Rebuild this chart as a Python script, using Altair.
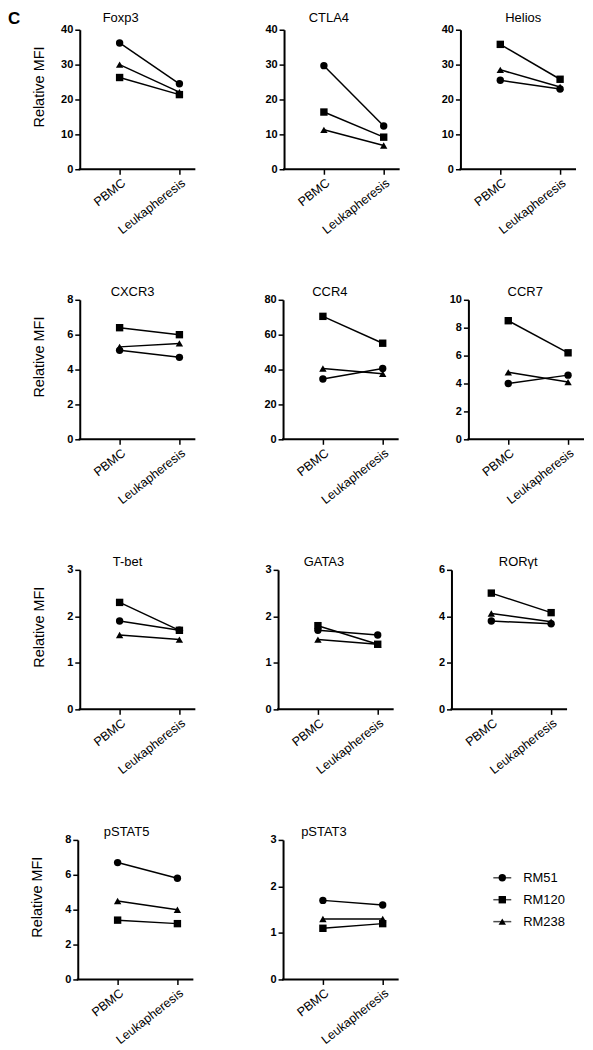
import altair as alt
import pandas as pd

conditions = ["PBMC", "Leukapheresis"]
animals = ["RM51", "RM120", "RM238"]
shapes = ["circle", "square", "triangle-up"]

markers = ["Foxp3", "CTLA4", "Helios", "CXCR3", "CCR4", "CCR7",
           "T-bet", "GATA3", "RORγt", "pSTAT5", "pSTAT3"]

rm51_pbmc = [36.2, 29.7, 25.5, 5.1, 34.6, 4.0, 1.9, 1.7, 3.8, 6.7, 1.7]
rm51_leuk = [24.5, 12.4, 23.0, 4.7, 40.6, 4.6, 1.7, 1.6, 3.68, 5.8, 1.6]
rm120_pbmc = [26.3, 16.4, 35.8, 6.4, 70.5, 8.5, 2.3, 1.8, 5.0, 3.4, 1.1]
rm120_leuk = [21.4, 9.2, 25.8, 6.0, 55.1, 6.2, 1.7, 1.4, 4.16, 3.2, 1.2]
rm238_pbmc = [30.0, 11.3, 28.5, 5.3, 40.6, 4.8, 1.6, 1.5, 4.12, 4.5, 1.3]
rm238_leuk = [22.1, 6.8, 23.6, 5.5, 37.6, 4.1, 1.5, 1.4, 3.77, 4.0, 1.3]

y_max = [40, 40, 40, 8, 80, 10, 3, 3, 6, 8, 3]
y_step = [10, 10, 10, 2, 20, 2, 1, 1, 2, 2, 1]

# layout / style
col_width = [199, 174, 132]
axis_shift = [0, 6, 9, 0, 5, 17, 0, 0, 0, -2, 5]
title_center = [41, 45, 63, 53, 47, 57, 48, 46, 67, 49, 41]
PLOT_W = 115
H = 140
FONT = "Liberation Sans"
LEG_X0 = 216  # legend position inside the last panel

series = {
    "RM51": (rm51_pbmc, rm51_leuk),
    "RM120": (rm120_pbmc, rm120_leuk),
    "RM238": (rm238_pbmc, rm238_leuk),
}

shape_enc = alt.Shape("animal:N", scale=alt.Scale(domain=animals, range=shapes), legend=None)


def legend_layers():
    leg_df = pd.DataFrame({"animal": animals})
    ly = alt.Y("animal:N", sort=animals, axis=None,
               scale=alt.Scale(type="point", domain=animals, range=[38, 82], padding=0))
    leg_line = alt.Chart(leg_df).mark_tick(color="black", thickness=1.5, size=18,
                                           orient="horizontal").encode(x=alt.value(LEG_X0 + 9), y=ly)
    leg_pts = alt.Chart(leg_df).mark_point(filled=True, size=55, color="black", opacity=1).encode(
        x=alt.value(LEG_X0 + 9), y=ly, shape=shape_enc)
    leg_txt = alt.Chart(leg_df).mark_text(align="left", baseline="middle", fontSize=13, font=FONT,
                                          color="black").encode(x=alt.value(LEG_X0 + 30), y=ly,
                                                                text="animal:N")
    return alt.layer(leg_line, leg_pts, leg_txt)


def panel(i):
    rows = []
    for a in animals:
        p, l = series[a]
        rows.append({"animal": a, "condition": conditions[0], "value": p[i]})
        rows.append({"animal": a, "condition": conditions[1], "value": l[i]})
    df = pd.DataFrame(rows)
    s = axis_shift[i]
    col = i % 3
    ticks = list(range(0, y_max[i] + 1, y_step[i]))

    x = alt.X(
        "condition:N", sort=conditions,
        scale=alt.Scale(type="point", domain=conditions, range=[40 + s, 100 + s], padding=0),
        axis=alt.Axis(title=None, domain=False, tickSize=5, tickWidth=1.5, tickColor="black",
                      labelAngle=322, labelAlign="right", labelBaseline="top", labelPadding=2,
                      labelFont=FONT, labelFontSize=12.5, labelColor="black", grid=False),
    )
    ax = dict(values=ticks, grid=False, domainColor="black", domainWidth=2, tickColor="black",
              tickSize=5, tickWidth=1.5, labelFont=FONT, labelFontSize=11, labelFontWeight="bold",
              labelColor="black", labelPadding=2, offset=-s)
    if col == 0:
        ax.update(titleX=-40, titleY=57, titleAngle=270, titleAlign="center", titleBaseline="middle",
                  titleFont=FONT, titleFontSize=14.5, titleFontWeight="normal", titleColor="black")
        y = alt.Y("value:Q", title="Relative MFI", scale=alt.Scale(domain=[0, y_max[i]], nice=False),
                  axis=alt.Axis(**ax))
    else:
        y = alt.Y("value:Q", title=None, scale=alt.Scale(domain=[0, y_max[i]], nice=False),
                  axis=alt.Axis(**ax))

    base = alt.Chart(df)
    lines = base.mark_line(color="black", strokeWidth=1.5).encode(x=x, y=y, detail="animal:N")
    pts = base.mark_point(filled=True, size=55, color="black", opacity=1).encode(x=x, y=y, shape=shape_enc)
    one = pd.DataFrame({"k": [0]})
    xline = alt.Chart(one).mark_rule(color="black", strokeWidth=2, strokeCap="square").encode(
        x=alt.value(s), x2=alt.value(s + PLOT_W), y=alt.value(H))
    ttl = pd.DataFrame({"t": [markers[i]]})
    title_mark = alt.Chart(ttl).mark_text(align="center", baseline="alphabetic", fontSize=13,
                                          font=FONT, color="black").encode(
        x=alt.value(title_center[i] + s), y=alt.value(-8 if i < 3 else -4), text="t:N")
    layers = [xline, lines, pts, title_mark]
    if i == 0:
        lab = pd.DataFrame({"label": ["C"]})
        layers.append(alt.Chart(lab).mark_text(align="left", baseline="top", fontSize=17,
                                               fontWeight="bold", font=FONT, color="black").encode(
            x=alt.value(-72), y=alt.value(-19), text="label:N"))
    ch = alt.layer(*layers)
    if i == len(markers) - 1:
        ch = alt.layer(ch, legend_layers()).resolve_scale(y="independent")
    return ch.properties(width=col_width[col], height=H)


panels = [panel(i) for i in range(len(markers))]

chart = alt.concat(
    *panels, columns=3, spacing={"row": 131, "column": 0}, bounds="flush",
    padding={"left": 0, "top": 0, "right": 0, "bottom": 0},
).configure(background="white").configure_view(stroke=None)

chart.save("out.html", embed_options={"renderer": "svg", "actions": False})
